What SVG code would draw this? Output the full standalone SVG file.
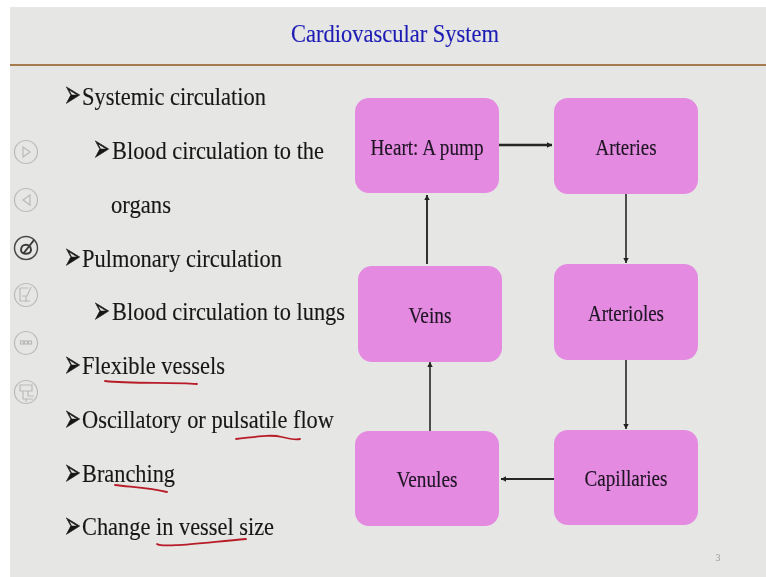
<svg xmlns="http://www.w3.org/2000/svg" width="766" height="577" viewBox="0 0 766 577">
<defs>
<marker id="ah" markerUnits="userSpaceOnUse" markerWidth="7" markerHeight="7" refX="5" refY="3.5" orient="auto"><path d="M0,0.8 L5,3.5 L0,6.2 Z" fill="#222"/></marker>
<filter id="soft" x="-5%" y="-5%" width="110%" height="110%"><feGaussianBlur stdDeviation="0.5"/></filter>
</defs>
<style>
text{font-family:"Liberation Serif","Times New Roman",serif}
.b{font-size:26px;fill:#181818;stroke:#181818;stroke-width:.15}
.bu{font-family:"DejaVu Sans",sans-serif;font-size:20px;fill:#181818;stroke:#181818;stroke-width:.3}
.n{fill:#e48ae0}
.l{font-size:23.5px;fill:#1e1424;stroke:#1e1424;stroke-width:.15;text-anchor:middle}
.c{fill:none;stroke:#262626;marker-end:url(#ah)}
.u{fill:none;stroke:#b81c28;stroke-width:1.8;stroke-linecap:round}
.ic{fill:none;stroke:#bababa;stroke-width:1.2}
</style>
<rect width="766" height="577" fill="#ffffff"/>
<rect x="10" y="7" width="756" height="570" fill="#e6e6e5"/>
<rect x="10" y="64" width="756" height="2" fill="#a87a50"/>
<g filter="url(#soft)">
<text id="title" x="395" y="42" font-size="26" fill="#1c1cb4" stroke="#1c1cb4" stroke-width=".15" text-anchor="middle" textLength="208" lengthAdjust="spacingAndGlyphs">Cardiovascular System</text>
<g id="bullets">
<text class="bu" transform="translate(64,107) scale(1,1.9)">➢</text><text class="b" x="82" y="105" textLength="184" lengthAdjust="spacingAndGlyphs">Systemic circulation</text>
<text class="bu" transform="translate(93,161) scale(1,1.9)">➢</text><text class="b" x="112" y="159" textLength="212" lengthAdjust="spacingAndGlyphs">Blood circulation to the</text>
<text class="b" x="111" y="213" textLength="60" lengthAdjust="spacingAndGlyphs">organs</text>
<text class="bu" transform="translate(64,269) scale(1,1.9)">➢</text><text class="b" x="82" y="267" textLength="200" lengthAdjust="spacingAndGlyphs">Pulmonary circulation</text>
<text class="bu" transform="translate(93,323) scale(1,1.9)">➢</text><text class="b" x="112" y="320" textLength="233" lengthAdjust="spacingAndGlyphs">Blood circulation to lungs</text>
<text class="bu" transform="translate(64,377) scale(1,1.9)">➢</text><text class="b" x="82" y="374" textLength="143" lengthAdjust="spacingAndGlyphs">Flexible vessels</text>
<text class="bu" transform="translate(64,431) scale(1,1.9)">➢</text><text class="b" x="82" y="428" textLength="252" lengthAdjust="spacingAndGlyphs">Oscillatory or pulsatile flow</text>
<text class="bu" transform="translate(64,485) scale(1,1.9)">➢</text><text class="b" x="82" y="482" textLength="93" lengthAdjust="spacingAndGlyphs">Branching</text>
<text class="bu" transform="translate(64,538) scale(1,1.9)">➢</text><text class="b" x="82" y="535" textLength="192" lengthAdjust="spacingAndGlyphs">Change in vessel size</text>
</g>
<g id="annotations">
<path class="u" d="M105,381 C130,384 170,382 197,384"/>
<path class="u" d="M236,439 C255,437 270,434 282,437 C290,439 295,440 300,439"/>
<path class="u" d="M115,485 C130,487 150,488 167,492"/>
<path class="u" d="M157,544 C162,548 200,543 246,539"/>
</g>
<g id="nav-icons" class="ic">
<circle cx="26" cy="152" r="11.500"/><path d="M23,147 L30,152 L23,157 Z"/>
<circle cx="26" cy="200" r="11.500"/><path d="M30,195 L23,200 L30,205 Z"/>
<circle cx="26" cy="248" r="11.500" stroke="#4a4a4a" stroke-width="1.500"/><path d="M21,250 C21,243 31,243 31,250 C31,255 21,255 21,250 M23,254 L34,240" stroke="#3a3a3a" stroke-width="2"/>
<circle cx="26" cy="295" r="11.500"/><path d="M20,288 H28 M20,288 V301 H30 M31,287 L27,296 H22 M26,296 V302"/>
<circle cx="26" cy="343" r="11.500"/><rect x="20.500" y="341" width="3" height="3"/><rect x="24.500" y="341" width="3" height="3"/><rect x="28.500" y="341" width="3" height="3"/>
<circle cx="26" cy="392" r="11.500"/><path d="M20,385 H32 V391 H20 Z M23,391 V399 H33 M28,391 V396 H34 M26,399 V402"/>
</g>
<g id="connectors">
<line class="c" x1="499" y1="145" x2="552" y2="145" stroke-width="2.400"/>
<line class="c" x1="626" y1="194" x2="626" y2="263" stroke-width="1.600"/>
<line class="c" x1="626" y1="360" x2="626" y2="429" stroke-width="1.600"/>
<line class="c" x1="554" y1="479" x2="501" y2="479" stroke-width="2.200"/>
<line class="c" x1="430" y1="431" x2="430" y2="362" stroke-width="1.600"/>
<line class="c" x1="427" y1="264" x2="427" y2="195" stroke-width="1.900"/>
</g>
<g id="heart"><rect class="n" x="355" y="98" width="144" height="95" rx="14"/><text class="l" x="427" y="155" textLength="113" lengthAdjust="spacingAndGlyphs">Heart: A pump</text></g>
<g id="arteries"><rect class="n" x="554" y="98" width="144" height="96" rx="14"/><text class="l" x="626" y="155" textLength="61" lengthAdjust="spacingAndGlyphs">Arteries</text></g>
<g id="veins"><rect class="n" x="358" y="266" width="144" height="96" rx="14"/><text class="l" x="430" y="323" textLength="43" lengthAdjust="spacingAndGlyphs">Veins</text></g>
<g id="arterioles"><rect class="n" x="554" y="264" width="144" height="96" rx="14"/><text class="l" x="626" y="321" textLength="76" lengthAdjust="spacingAndGlyphs">Arterioles</text></g>
<g id="venules"><rect class="n" x="355" y="431" width="144" height="95" rx="14"/><text class="l" x="427" y="487" textLength="61" lengthAdjust="spacingAndGlyphs">Venules</text></g>
<g id="capillaries"><rect class="n" x="554" y="430" width="144" height="95" rx="14"/><text class="l" x="626" y="486" textLength="83" lengthAdjust="spacingAndGlyphs">Capillaries</text></g>
<text id="page" x="718" y="561" font-size="10" fill="#9a9a9a" text-anchor="middle">3</text>
</g>
</svg>
